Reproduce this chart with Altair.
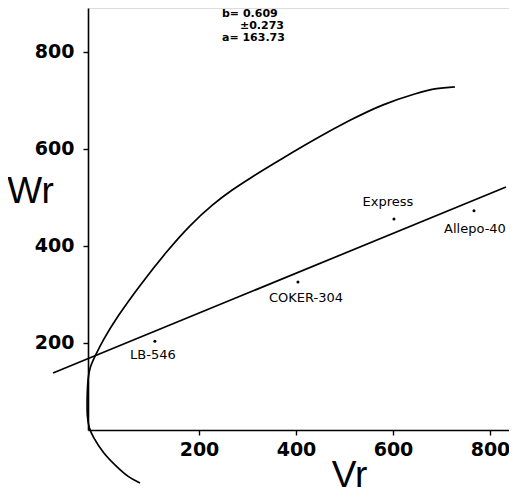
import altair as alt
import pandas as pd

# Parents (Vr, Wr)
parents = ["LB-546", "COKER-304", "Express", "Allepo-40"]
parent_vr = [109, 404, 602, 767]
parent_wr = [203, 325, 455, 472]

# Limiting parabola, traced point by point
curve_vr = [78.4, 53.6, 30.9, 2.1, -18.6, -26.8, -30.9, -30.9, -28.9, -24.7, -14.4,
            2.1, 30.9, 78.4, 134.0, 181.4, 228.9, 268.0, 305.2, 373.2, 443.3, 511.3,
            579.4, 649.5, 690.7, 727.8]
curve_wr = [-89.8, -77.4, -56.8, -28.0, 5.2, 23.7, 46.4, 87.7, 129.0, 149.6, 172.3,
            205.4, 252.8, 318.9, 389.1, 442.7, 486.1, 515.0, 539.7, 581.0, 622.3, 659.4,
            692.4, 715.2, 725.5, 727.6]

# Regression line end points
reg_vr = [-101, 833]
reg_wr = [137.3, 521.1]

# Statistics text
stat_lines = ["b= 0.609", "\u00b10.273", "a= 163.73"]
stat_vr = [247.4, 284.5, 247.4]
stat_wr = [878.3, 853.5, 828.7]

tick_values = [200, 400, 600, 800]

x_dom = [-28.9, 839.2]
y_dom = [19.6, 890.6]

xs = alt.Scale(domain=x_dom, nice=False, zero=False)
ys = alt.Scale(domain=y_dom, nice=False, zero=False)

axis_common = dict(grid=False, domainColor="black", domainWidth=1.6, tickColor="black",
                   tickWidth=1.4, tickSize=5, labelFont="DejaVu Sans", labelFontSize=19,
                   labelFontWeight="bold",
                   labelColor="black", titleFont="Liberation Sans", titleFontSize=37,
                   titleFontWeight="normal", titleColor="black", values=tick_values)

x_axis = alt.Axis(title="Vr", labelPadding=5, titleAngle=0, titleX=261, titleY=45,
                  titleAlign="center", titleBaseline="middle", **axis_common)
y_axis = alt.Axis(title="Wr", labelPadding=9, titleAngle=0, titleX=-58, titleY=183,
                  titleAlign="center", titleBaseline="middle", **axis_common)

curve_df = pd.DataFrame({"Vr": curve_vr, "Wr": curve_wr, "o": list(range(len(curve_vr)))})
reg_df = pd.DataFrame({"Vr": reg_vr, "Wr": reg_wr})
pts_df = pd.DataFrame({"name": parents, "Vr": parent_vr, "Wr": parent_wr})
stat_df = pd.DataFrame({"t": stat_lines, "Vr": stat_vr, "Wr": stat_wr})

curve = alt.Chart(curve_df).mark_line(color="black", strokeWidth=1.7, interpolate="basis").encode(
    x=alt.X("Vr:Q", scale=xs, axis=x_axis),
    y=alt.Y("Wr:Q", scale=ys, axis=y_axis),
    order="o:Q",
)

reg = alt.Chart(reg_df).mark_line(color="black", strokeWidth=1.7).encode(
    x=alt.X("Vr:Q", scale=xs), y=alt.Y("Wr:Q", scale=ys)
)

pts = alt.Chart(pts_df).mark_circle(color="black", size=9, opacity=1).encode(
    x=alt.X("Vr:Q", scale=xs), y=alt.Y("Wr:Q", scale=ys)
)

offsets = {"LB-546": (-2, 14), "COKER-304": (8, 16), "Express": (-6, -17), "Allepo-40": (1, 18)}
label_layers = []
for name, (dx, dy) in offsets.items():
    label_layers.append(
        alt.Chart(pts_df).transform_filter(alt.datum.name == name).mark_text(
            font="DejaVu Sans", fontSize=13, color="black", dx=dx, dy=dy, baseline="middle"
        ).encode(x=alt.X("Vr:Q", scale=xs), y=alt.Y("Wr:Q", scale=ys), text="name:N")
    )

stats = alt.Chart(stat_df).mark_text(
    font="DejaVu Sans", fontSize=11, fontWeight="bold", color="black", align="left", baseline="middle"
).encode(x=alt.X("Vr:Q", scale=xs), y=alt.Y("Wr:Q", scale=ys), text="t:N")

chart = alt.layer(curve, reg, pts, stats, *label_layers).properties(
    width=421, height=422,
    autosize=alt.AutoSizeParams(type="none"),
    padding={"left": 80, "top": 0, "right": 0, "bottom": 63},
).configure_view(stroke=None).configure(background="white")

chart.save("out.html", embed_options={"renderer": "svg", "actions": False})
